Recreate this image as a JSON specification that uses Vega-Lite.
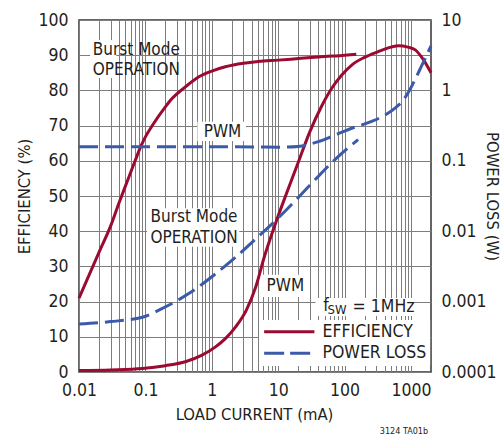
{
  "$schema": "https://vega.github.io/schema/vega-lite/v6.json",
  "width": 352,
  "height": 352,
  "autosize": {"type": "none"},
  "padding": {"left": 79, "top": 20, "right": 71, "bottom": 64},
  "background": "white",
  "config": {
    "font": "Liberation Sans Narrow, DejaVu Sans Condensed, Liberation Sans, sans-serif",
    "view": {"stroke": "#333333", "strokeWidth": 1.5},
    "axis": {
      "labelFont": "Liberation Sans Narrow, DejaVu Sans Condensed, Liberation Sans, sans-serif",
      "titleFont": "Liberation Sans Narrow, DejaVu Sans Condensed, Liberation Sans, sans-serif",
      "labelColor": "#231f20",
      "titleColor": "#231f20",
      "labelFontSize": 17.5,
      "titleFontSize": 16.5,
      "titleFontWeight": "normal",
      "gridColor": "#7d7d7d",
      "gridWidth": 1,
      "gridOpacity": 1,
      "domain": false,
      "ticks": false,
      "labelOverlap": false,
      "labelFlush": false
    },
    "text": {"font": "Liberation Sans Narrow, DejaVu Sans Condensed, Liberation Sans, sans-serif", "color": "#231f20"}
  },
  "datasets": {
    "curves": [
      {"s": "effBurst", "i": 0.01, "v": 21},
      {"s": "effBurst", "i": 0.02, "v": 34},
      {"s": "effBurst", "i": 0.03, "v": 41.5},
      {"s": "effBurst", "i": 0.04, "v": 48},
      {"s": "effBurst", "i": 0.05, "v": 52.8},
      {"s": "effBurst", "i": 0.07, "v": 60},
      {"s": "effBurst", "i": 0.085, "v": 64},
      {"s": "effBurst", "i": 0.1, "v": 66.8},
      {"s": "effBurst", "i": 0.13, "v": 70.3},
      {"s": "effBurst", "i": 0.2, "v": 75.3},
      {"s": "effBurst", "i": 0.25, "v": 77.6},
      {"s": "effBurst", "i": 0.4, "v": 81},
      {"s": "effBurst", "i": 0.63, "v": 83.8},
      {"s": "effBurst", "i": 1, "v": 85.5},
      {"s": "effBurst", "i": 1.6, "v": 86.7},
      {"s": "effBurst", "i": 3, "v": 87.7},
      {"s": "effBurst", "i": 5, "v": 88.2},
      {"s": "effBurst", "i": 10, "v": 88.6},
      {"s": "effBurst", "i": 22, "v": 89.1},
      {"s": "effBurst", "i": 50, "v": 89.6},
      {"s": "effBurst", "i": 100, "v": 90},
      {"s": "effBurst", "i": 150, "v": 90.3},
      {"s": "effPWM", "i": 0.01, "v": 0.4},
      {"s": "effPWM", "i": 0.03, "v": 0.6},
      {"s": "effPWM", "i": 0.09, "v": 1},
      {"s": "effPWM", "i": 0.2, "v": 1.8},
      {"s": "effPWM", "i": 0.4, "v": 2.9},
      {"s": "effPWM", "i": 0.7, "v": 4.7},
      {"s": "effPWM", "i": 1.15, "v": 7.2},
      {"s": "effPWM", "i": 1.6, "v": 9.5},
      {"s": "effPWM", "i": 2.3, "v": 12.9},
      {"s": "effPWM", "i": 3.3, "v": 17.5},
      {"s": "effPWM", "i": 4.6, "v": 24.2},
      {"s": "effPWM", "i": 6.2, "v": 32.8},
      {"s": "effPWM", "i": 9.3, "v": 42.7},
      {"s": "effPWM", "i": 13.5, "v": 51},
      {"s": "effPWM", "i": 20, "v": 59.5},
      {"s": "effPWM", "i": 30, "v": 68.3},
      {"s": "effPWM", "i": 45, "v": 75.5},
      {"s": "effPWM", "i": 64, "v": 80.6},
      {"s": "effPWM", "i": 90, "v": 84.3},
      {"s": "effPWM", "i": 128, "v": 87.2},
      {"s": "effPWM", "i": 200, "v": 89.4},
      {"s": "effPWM", "i": 320, "v": 91},
      {"s": "effPWM", "i": 500, "v": 92.3},
      {"s": "effPWM", "i": 650, "v": 92.7},
      {"s": "effPWM", "i": 900, "v": 92.3},
      {"s": "effPWM", "i": 1160, "v": 91.5},
      {"s": "effPWM", "i": 1500, "v": 89},
      {"s": "effPWM", "i": 2000, "v": 85},
      {"s": "lossPWM", "i": 0.01, "v": 0.158},
      {"s": "lossPWM", "i": 0.1, "v": 0.158},
      {"s": "lossPWM", "i": 1, "v": 0.158},
      {"s": "lossPWM", "i": 5, "v": 0.157},
      {"s": "lossPWM", "i": 10, "v": 0.156},
      {"s": "lossPWM", "i": 20, "v": 0.16},
      {"s": "lossPWM", "i": 40, "v": 0.187},
      {"s": "lossPWM", "i": 70, "v": 0.23},
      {"s": "lossPWM", "i": 128, "v": 0.29},
      {"s": "lossPWM", "i": 250, "v": 0.36},
      {"s": "lossPWM", "i": 408, "v": 0.447},
      {"s": "lossPWM", "i": 600, "v": 0.58},
      {"s": "lossPWM", "i": 731, "v": 0.69},
      {"s": "lossPWM", "i": 923, "v": 0.955},
      {"s": "lossPWM", "i": 1160, "v": 1.45},
      {"s": "lossPWM", "i": 1350, "v": 1.95},
      {"s": "lossPWM", "i": 1650, "v": 2.9},
      {"s": "lossPWM", "i": 2000, "v": 4.3},
      {"s": "lossBurst", "i": 0.01, "v": 0.00048},
      {"s": "lossBurst", "i": 0.03, "v": 0.00052},
      {"s": "lossBurst", "i": 0.09, "v": 0.0006},
      {"s": "lossBurst", "i": 0.18, "v": 0.0008},
      {"s": "lossBurst", "i": 0.45, "v": 0.0013},
      {"s": "lossBurst", "i": 1.15, "v": 0.0025},
      {"s": "lossBurst", "i": 2.3, "v": 0.0043},
      {"s": "lossBurst", "i": 4.6, "v": 0.0078},
      {"s": "lossBurst", "i": 9.3, "v": 0.0144},
      {"s": "lossBurst", "i": 20, "v": 0.03},
      {"s": "lossBurst", "i": 40, "v": 0.06},
      {"s": "lossBurst", "i": 80, "v": 0.115},
      {"s": "lossBurst", "i": 160, "v": 0.2}
    ],
    "boxes": [
      {"i": 0.0147, "i2": 0.0363, "v": 83.5, "v2": 94.3},
      {"i": 0.606, "i2": 3.27, "v": 65.6, "v2": 71.1},
      {"i": 0.106, "i2": 2.59, "v": 35.6, "v2": 46.5},
      {"i": 5.52, "i2": 26.5, "v": 21.3, "v2": 27.6},
      {"i": 36.4, "i2": 1035, "v": 15.9, "v2": 21},
      {"i": 5.15, "i2": 1941, "v": 1.7, "v2": 14.8}
    ],
    "labels": [
      {"t": "Burst Mode", "i": 0.073, "v": 91.5},
      {"t": "OPERATION", "i": 0.073, "v": 85.8},
      {"t": "PWM", "i": 1.45, "v": 68.3},
      {"t": "Burst Mode", "i": 0.54, "v": 43.9},
      {"t": "OPERATION", "i": 0.54, "v": 38.2},
      {"t": "PWM", "i": 12.8, "v": 24.5}
    ],
    "legendLines": [
      {"s": "eff", "i": 6.14, "v": 11.4},
      {"s": "eff", "i": 35.1, "v": 11.4},
      {"s": "loss", "i": 6.14, "v": 5.3},
      {"s": "loss", "i": 35.1, "v": 5.3}
    ],
    "legendText": [
      {"t": "EFFICIENCY", "i": 46.4, "v": 11.4},
      {"t": "POWER LOSS", "i": 46.4, "v": 5.4},
      {"t": "f", "i": 47.5, "v": 18.75},
      {"t": "= 1MHz", "i": 132, "v": 18.5}
    ],
    "legendSub": [
      {"t": "SW", "i": 55.2, "v": 17.5}
    ],
    "note": [
      {"t": "3124 TA01b", "i": 783, "v": -16.8}
    ]
  },
  "encoding": {
    "x": {
      "field": "i",
      "type": "quantitative",
      "scale": {"type": "log", "domain": [0.01, 2000], "nice": false},
      "axis": {
        "title": "LOAD CURRENT (mA)",
        "values": [0.01,0.02,0.03,0.04,0.05,0.06,0.07,0.08,0.09,0.1,0.2,0.3,0.4,0.5,0.6,0.7,0.8,0.9,1,2,3,4,5,6,7,8,9,10,20,30,40,50,60,70,80,90,100,200,300,400,500,600,700,800,900,1000],
        "format": "~g",
        "labelExpr": "indexof([0.01,0.1,1,10,100,1000], datum.value) >= 0 ? datum.label : ''",
        "grid": true,
        "labelPadding": 9,
        "titleX": 175,
        "titleY": 42,
        "titleBaseline": "middle",
        "titleAlign": "center"
      }
    }
  },
  "layer": [
    {
      "encoding": {
        "y": {
          "field": "v",
          "type": "quantitative",
          "scale": {"domain": [0, 100], "nice": false, "zero": false},
          "axis": {
            "title": "EFFICIENCY (%)",
            "orient": "left",
            "values": [0,10,20,30,40,50,60,70,80,90,100],
            "grid": true,
            "labelPadding": 11,
            "titleX": -55,
            "titleY": 176,
            "titleAngle": -90,
            "titleBaseline": "middle",
            "titleAlign": "center"
          }
        }
      },
      "layer": [
        {
          "data": {"name": "boxes"},
          "mark": {"type": "rect", "fill": "white", "stroke": null},
          "encoding": {"x2": {"field": "i2"}, "y2": {"field": "v2"}}
        },
        {
          "data": {"name": "curves"},
          "transform": [{"filter": "datum.s === 'effBurst' || datum.s === 'effPWM'"}],
          "mark": {"type": "line", "color": "#9b0a30", "strokeWidth": 3, "interpolate": "monotone"},
          "encoding": {"detail": {"field": "s"}, "order": {"field": "i", "type": "quantitative"}}
        },
        {
          "data": {"name": "legendLines"},
          "transform": [{"filter": "datum.s === 'eff'"}],
          "mark": {"type": "line", "color": "#9b0a30", "strokeWidth": 3},
          "encoding": {}
        },
        {
          "data": {"name": "legendLines"},
          "transform": [{"filter": "datum.s === 'loss'"}],
          "mark": {"type": "line", "color": "#3b5aa9", "strokeWidth": 3, "strokeDash": [20, 6]},
          "encoding": {}
        },
        {
          "data": {"name": "labels"},
          "mark": {"type": "text", "fontSize": 17, "align": "center", "baseline": "middle"},
          "encoding": {"text": {"field": "t"}}
        },
        {
          "data": {"name": "legendText"},
          "mark": {"type": "text", "fontSize": 17.5, "align": "left", "baseline": "middle"},
          "encoding": {"text": {"field": "t"}}
        },
        {
          "data": {"name": "legendSub"},
          "mark": {"type": "text", "fontSize": 13, "align": "left", "baseline": "middle"},
          "encoding": {"text": {"field": "t"}}
        },
        {
          "data": {"name": "note"},
          "mark": {"type": "text", "fontSize": 9, "align": "center", "baseline": "middle", "clip": false},
          "encoding": {"text": {"field": "t"}}
        }
      ]
    },
    {
      "encoding": {
        "y": {
          "field": "v",
          "type": "quantitative",
          "scale": {"type": "log", "domain": [0.0001, 10], "nice": false},
          "axis": {
            "title": "POWER LOSS (W)",
            "orient": "right",
            "values": [0.0001, 0.001, 0.01, 0.1, 1, 10],
            "format": "~g",
            "grid": false,
            "labelPadding": 10,
            "titleX": 60,
            "titleY": 176,
            "titleAngle": 90,
            "titleBaseline": "middle",
            "titleAlign": "center"
          }
        }
      },
      "layer": [
        {
          "data": {"name": "curves"},
          "transform": [{"filter": "datum.s === 'lossPWM' || datum.s === 'lossBurst'"}],
          "mark": {"type": "line", "color": "#3b5aa9", "strokeWidth": 3, "strokeDash": [19, 7], "interpolate": "monotone"},
          "encoding": {"detail": {"field": "s"}, "order": {"field": "i", "type": "quantitative"}}
        }
      ]
    }
  ],
  "resolve": {"scale": {"y": "independent"}}
}
